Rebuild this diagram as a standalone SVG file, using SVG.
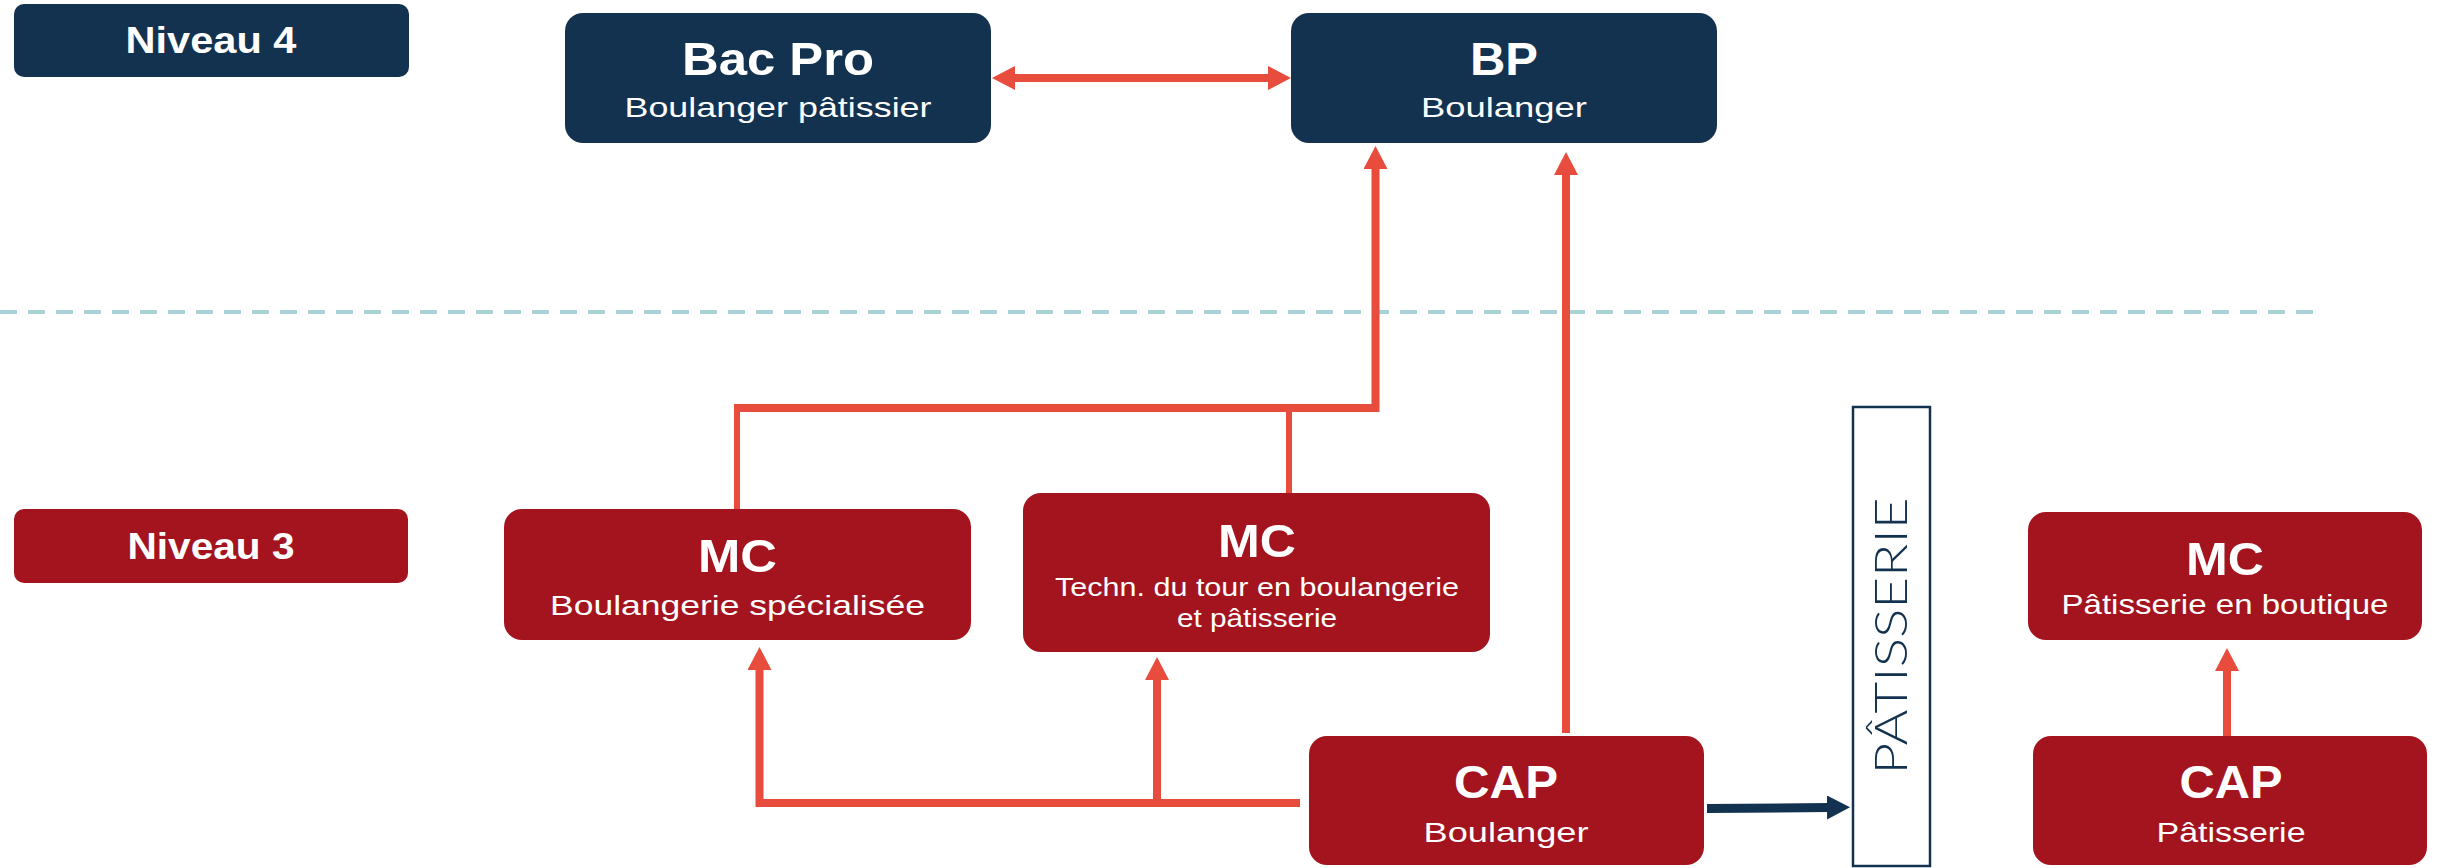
<svg xmlns="http://www.w3.org/2000/svg" width="2446" height="868" viewBox="0 0 2446 868">
<style>
.navy{fill:#12324f}
.red{fill:#a3141f}
.t{font-family:"Liberation Sans",Arial,sans-serif;fill:#ffffff;text-anchor:middle}
.b{font-weight:bold}
.c{fill:none;stroke:#e84c3d;stroke-linecap:butt;stroke-linejoin:miter}
</style>
<defs>
<marker id="ar" markerUnits="userSpaceOnUse" markerWidth="23" markerHeight="24" viewBox="0 0 23 24" refX="2" refY="12" orient="auto-start-reverse">
<path d="M0,0 L23,12 L0,24 z" fill="#e84c3d"/>
</marker>
<marker id="an" markerUnits="userSpaceOnUse" markerWidth="23" markerHeight="24" viewBox="0 0 23 24" refX="2" refY="12" orient="auto">
<path d="M0,0 L23,12 L0,24 z" fill="#12324f"/>
</marker>
</defs>
<rect width="2446" height="868" fill="#ffffff"/>
<line x1="0" y1="312" x2="2322" y2="312" stroke="#a9d1d8" stroke-width="4" stroke-dasharray="17 11"/>

<g id="connectors">
<line class="c" x1="1013" y1="78" x2="1270" y2="78" stroke-width="8" marker-start="url(#ar)" marker-end="url(#ar)"/>
<path class="c" d="M737,509 V408" stroke-width="6"/>
<path class="c" d="M1289,408 V493" stroke-width="6"/>
<path class="c" d="M734,408 H1375.5 V167" stroke-width="8" marker-end="url(#ar)"/>
<path class="c" d="M1566,733 V173" stroke-width="8" marker-end="url(#ar)"/>
<path class="c" d="M1300,803 H759.5 V668" stroke-width="8" marker-end="url(#ar)"/>
<path class="c" d="M1157,803 V678" stroke-width="8" marker-end="url(#ar)"/>
<path class="c" d="M2227,736 V669" stroke-width="8" marker-end="url(#ar)"/>
<path d="M1707,808.5 L1829,807.5" fill="none" stroke="#12324f" stroke-width="9" marker-end="url(#an)"/>
</g>

<g id="niveau4">
<rect class="navy" x="14" y="4" width="395" height="73" rx="10"/>
<text class="t b" x="211" y="53" font-size="37" textLength="171" lengthAdjust="spacingAndGlyphs">Niveau 4</text>
</g>
<g id="niveau3">
<rect class="red" x="14" y="509" width="394" height="74" rx="10"/>
<text class="t b" x="211" y="559" font-size="37" textLength="167" lengthAdjust="spacingAndGlyphs">Niveau 3</text>
</g>

<g id="bacpro">
<rect class="navy" x="565" y="13" width="426" height="130" rx="18"/>
<text class="t b" x="778" y="75" font-size="46" textLength="192" lengthAdjust="spacingAndGlyphs">Bac Pro</text>
<text class="t" x="778" y="117" font-size="28" textLength="307" lengthAdjust="spacingAndGlyphs">Boulanger pâtissier</text>
</g>
<g id="bp">
<rect class="navy" x="1291" y="13" width="426" height="130" rx="18"/>
<text class="t b" x="1504" y="75" font-size="46" textLength="68" lengthAdjust="spacingAndGlyphs">BP</text>
<text class="t" x="1504" y="117" font-size="28" textLength="166" lengthAdjust="spacingAndGlyphs">Boulanger</text>
</g>

<g id="mc-boulangerie">
<rect class="red" x="504" y="509" width="467" height="131" rx="18"/>
<text class="t b" x="737.5" y="572" font-size="46" textLength="79" lengthAdjust="spacingAndGlyphs">MC</text>
<text class="t" x="737.5" y="615" font-size="28" textLength="375" lengthAdjust="spacingAndGlyphs">Boulangerie spécialisée</text>
</g>
<g id="mc-tour">
<rect class="red" x="1023" y="493" width="467" height="159" rx="18"/>
<text class="t b" x="1257" y="557" font-size="46" textLength="78" lengthAdjust="spacingAndGlyphs">MC</text>
<text class="t" x="1257" y="596" font-size="26" textLength="404" lengthAdjust="spacingAndGlyphs">Techn. du tour en boulangerie</text>
<text class="t" x="1257" y="627" font-size="26" textLength="160" lengthAdjust="spacingAndGlyphs">et pâtisserie</text>
</g>
<g id="mc-patisserie">
<rect class="red" x="2028" y="512" width="394" height="128" rx="18"/>
<text class="t b" x="2225" y="575" font-size="46" textLength="78" lengthAdjust="spacingAndGlyphs">MC</text>
<text class="t" x="2225" y="614" font-size="28" textLength="327" lengthAdjust="spacingAndGlyphs">Pâtisserie en boutique</text>
</g>
<g id="cap-boulanger">
<rect class="red" x="1309" y="736" width="395" height="129" rx="18"/>
<text class="t b" x="1506" y="798" font-size="46" textLength="104" lengthAdjust="spacingAndGlyphs">CAP</text>
<text class="t" x="1506" y="842" font-size="28" textLength="165" lengthAdjust="spacingAndGlyphs">Boulanger</text>
</g>
<g id="cap-patisserie">
<rect class="red" x="2033" y="736" width="394" height="129" rx="18"/>
<text class="t b" x="2231" y="798" font-size="46" textLength="103" lengthAdjust="spacingAndGlyphs">CAP</text>
<text class="t" x="2231" y="842" font-size="28" textLength="149" lengthAdjust="spacingAndGlyphs">Pâtisserie</text>
</g>
<g id="patisserie-band">
<rect x="1853" y="407" width="77" height="459" fill="#ffffff" stroke="#12324f" stroke-width="2.5"/>
<text transform="translate(1907,636) rotate(-90)" x="0" y="0" font-family="Lato,'Liberation Sans',sans-serif" font-weight="300" font-size="45" fill="#12324f" text-anchor="middle" textLength="277" lengthAdjust="spacingAndGlyphs">PÂTISSERIE</text>
</g>
</svg>
